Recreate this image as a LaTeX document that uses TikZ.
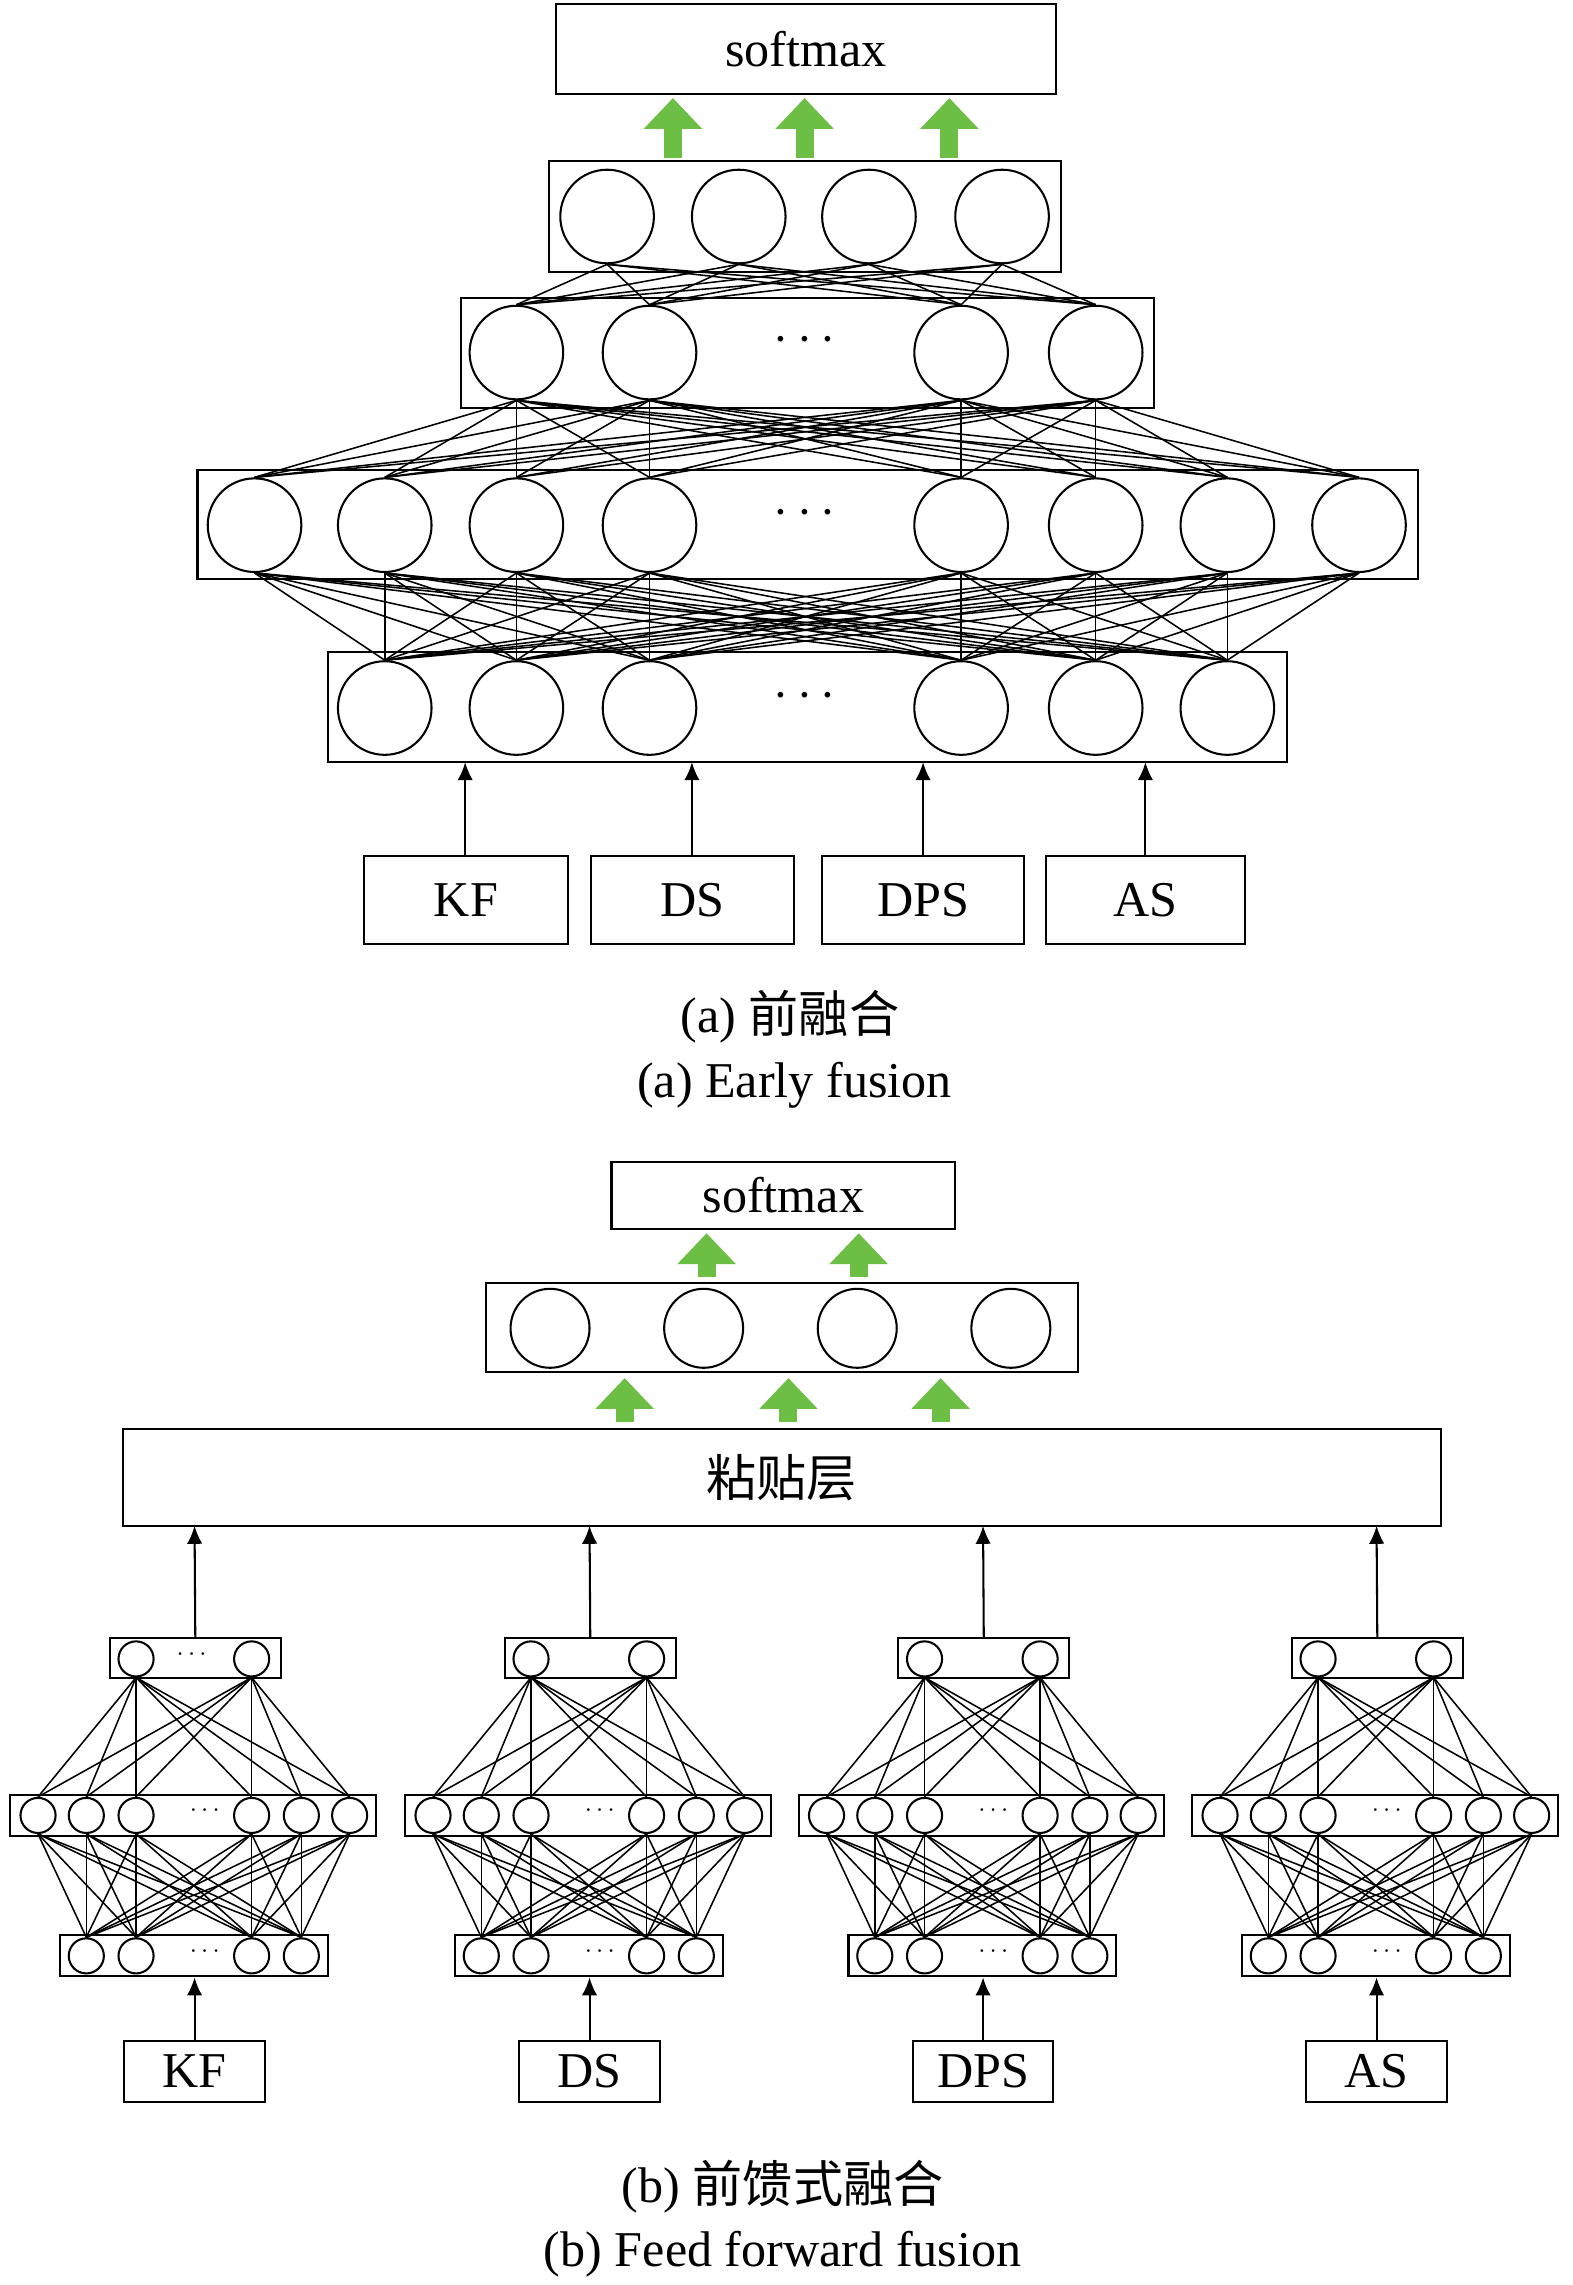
\documentclass[tikz,border=0pt]{standalone}
\usepackage{fontspec}
\setmainfont{Liberation Serif}
\newfontfamily\cjk{Noto Sans CJK SC}
\usetikzlibrary{fit,arrows.meta}
\definecolor{arrowgreen}{RGB}{108,190,69}
\tikzset{
  bigneuron/.style={circle, draw, thick, fill=white, minimum size=1.28cm, inner sep=0pt},
  midneuron/.style={circle, draw, thick, fill=white, minimum size=1.08cm, inner sep=0pt},
  tinyneuron/.style={circle, draw, thick, fill=white, minimum size=0.48cm, inner sep=0pt},
  layer/.style={draw, thick, inner sep=0pt},
  link/.style={semithick},
  label/.style={font=\fontsize{19.5}{22}\selectfont},
  feed/.style={-{Latex[length=7pt,width=6pt]}, thick},
  green arrow/.style={-{Triangle[length=12pt,width=22pt]}, line width=7pt, arrowgreen},
}
\begin{document}
\begin{tikzpicture}[x=0.02cm, y=-0.02cm]
  \useasboundingbox (0,0) rectangle (1075,1562);
  % (a) early fusion
  \node[layer, fit={(380,3) (722,64)}] (smaxa) {};
  \node[label] at (smaxa) {softmax};
  \node[layer, fit={(375,110) (725,186)}] (la4) {};
  \node[layer, fit={(315,204) (789,279)}] (la3) {};
  \node[layer, fit={(135,321) (969,396)}] (la2) {};
  \node[layer, fit={(224,446) (880,521)}] (la1) {};
  \foreach \x [count=\i] in {415,505,594,685} \node[bigneuron] (d\i) at (\x,148) {};
  \foreach \x [count=\i] in {353,444,657,749} \node[bigneuron] (c\i) at (\x,241) {};
  \foreach \x [count=\i] in {174,263,353,444,657,749,839,929} \node[bigneuron] (b\i) at (\x,359) {};
  \foreach \x [count=\i] in {263,353,444,657,749,839} \node[bigneuron] (a\i) at (\x,484) {};
  \node[label] at (550,233) {$\cdots$};
  \node[label] at (550,351) {$\cdots$};
  \node[label] at (550,476) {$\cdots$};
  \foreach \i in {1,...,4} \foreach \j in {1,...,4} \draw[link] (c\i.north) -- (d\j.south);
  \foreach \i in {1,...,8} \foreach \j in {1,...,4} \draw[link] (b\i.north) -- (c\j.south);
  \foreach \i in {1,...,6} \foreach \j in {1,...,8} \draw[link] (a\i.north) -- (b\j.south);
  \foreach \x [count=\i] in {460,550,649} {
    \coordinate (ga\i) at (\x,108);
    \coordinate (ha\i) at (\x,67);
    \draw[green arrow] (ga\i) -- (ha\i);
  }
  \foreach \name/\l/\r/\x in {kf/249/388/318, ds/404/543/473, dps/562/700/631, as/715/851/783} {
    \node[layer, fit={(\l,585) (\r,645)}] (in\name) {};
    \coordinate (top\name) at (\x,521);
    \draw[feed] (in\name.north -| top\name) -- (top\name);
  }
  \node[label] at (inkf) {KF};
  \node[label] at (inds) {DS};
  \node[label] at (indps) {DPS};
  \node[label] at (inas) {AS};
  \node[label] (capa1) at (540,695) {(a) {\cjk 前融合}};
  \node[label] (capa2) at (543,742) {(a) Early fusion};
  % (b) feed forward fusion
  \node[layer, fit={(418,794) (653,840)}] (smaxb) {};
  \node[label] at (smaxb) {softmax};
  \node[layer, fit={(332,877) (737,938)}] (lb) {};
  \foreach \x [count=\i] in {376,481,586,691} \node[midneuron] (e\i) at (\x,908) {};
  \node[layer, fit={(84,977) (985,1043)}] (paste) {};
  \node[label] at (paste) {\cjk 粘贴层};
  \foreach \x [count=\i] in {483,587} {
    \coordinate (gb\i) at (\x,873);
    \coordinate (hb\i) at (\x,843);
    \draw[green arrow] (gb\i) -- (hb\i);
  }
  \foreach \x [count=\i] in {427,539,643} {
    \coordinate (gc\i) at (\x,972);
    \coordinate (hc\i) at (\x,942);
    \draw[green arrow] (gc\i) -- (hc\i);
  }
  \foreach \k/\s/\txt in {1/0/KF, 2/270/DS, 3/539/DPS, 4/808/AS} {
    \begin{scope}[xshift=\s*0.02cm]
      \node[layer, fit={(75,1120) (192,1147)}] (t\k) {};
      \node[layer, fit={(7,1227) (257,1255)}] (m\k) {};
      \node[layer, fit={(41,1323) (224,1351)}] (u\k) {};
      \foreach \x [count=\i] in {93,172} \node[tinyneuron] (t\k-\i) at (\x,1134) {};
      \foreach \x [count=\i] in {26,59,93,172,206,239} \node[tinyneuron] (m\k-\i) at (\x,1241) {};
      \foreach \x [count=\i] in {59,93,172,206} \node[tinyneuron] (u\k-\i) at (\x,1337) {};
      \node at (140,1238) {$\cdots$};
      \node at (140,1334) {$\cdots$};
      \node[layer, fit={(85,1395) (181,1437)}] (inb\k) {};
      \node[label] at (inb\k) {\txt};
      \coordinate (out\k) at (133,1043);
    \end{scope}
    \foreach \i in {1,2} \foreach \j in {1,...,6} \draw[link] (m\k-\j.north) -- (t\k-\i.south);
    \foreach \i in {1,...,6} \foreach \j in {1,...,4} \draw[link] (u\k-\j.north) -- (m\k-\i.south);
    \draw[feed] (inb\k.north) -- (u\k.south -| inb\k.north);
    \draw[feed] (t\k.north) -- (out\k);
  }
  \node at (131,1131) {$\cdots$};
  \node[label] (capb1) at (535,1495) {(b) {\cjk 前馈式融合}};
  \node[label] (capb2) at (535,1541) {(b) Feed forward fusion};
\end{tikzpicture}
\end{document}
